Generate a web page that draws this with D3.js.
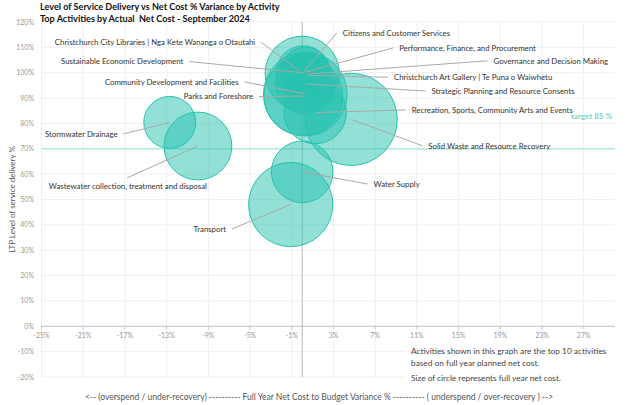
<!DOCTYPE html>
<html><head><meta charset="utf-8">
<script src="https://cdn.jsdelivr.net/npm/d3@7"></script>
<style>body{margin:0;background:#fff} svg{display:block;font-family:Lato,'Open Sans',sans-serif} text{white-space:pre}</style>
</head><body><svg id="c" width="642" height="405"></svg>
<script>
// ---- data ----
const activities = [
  "Christchurch City Libraries | Nga Kete Wananga o Otautahi",
  "Citizens and Customer Services",
  "Sustainable Economic Development",
  "Performance, Finance, and Procurement",
  "Governance and Decision Making",
  "Christchurch Art Gallery | Te Puna o Waiwhetu",
  "Strategic Planning and Resource Consents",
  "Community Development and Facilities",
  "Parks and Foreshore",
  "Recreation, Sports, Community Arts and Events",
  "Solid Waste and Resource Recovery",
  "Stormwater Drainage",
  "Wastewater collection, treatment and disposal",
  "Water Supply",
  "Transport"
];
const variancePct     = [0.0, 0.1, 0.0, 0.3, 0.6, 0.4, 0.3, 0.3, 0.1, 1.25, 4.7, -12.7, -10.0, 0.0, -1.1];
const serviceLevelPct = [99.8, 100.0, 100.0, 100.2, 99.5, 99.0, 95.6, 91.6, 90.8, 84.3, 81.6, 80.4, 71.1, 60.9, 48.0];
const netCost         = [55, 29, 13, 25, 19, 16, 36, 70, 62, 39, 85, 27, 46, 38, 71];
const xTicks = [-25, -21, -17, -13, -9, -5, -1, 3, 7, 11, 15, 19, 23, 27];
const yTicks = [-20, -10, 0, 10, 20, 30, 40, 50, 60, 70, 80, 90, 100, 110, 120];
const targetLineLevel = 70;
const targetText = "target 85 %";
const titleLines = ["Level of Service Delivery vs Net Cost % Variance by Activity",
                    "Top Activities by Actual  Net Cost - September 2024"];
const yTitle = "LTP Level of service delivery %";
const xTitle = "<-- (overspend / under-recovery) ---------- Full Year Net Cost to Budget Variance % ---------- ( underspend / over-recovery ) -->";
const notes = ["Activities shown in this graph are the top 10 activities",
               "based on full year planned net cost.",
               "Size of circle represents full year net cost."];

// ---- label layout (in axis units): text anchor x, y, side [, leader start x, y] ----
const labelLayout = [
  [-4.5, 112.0, "end"],
  [3.9, 115.7, "start"],
  [-11.4, 104.4, "end"],
  [9.3, 109.8, "start"],
  [18.35, 104.7, "start"],
  [8.8, 98.2, "start"],
  [12.4, 92.8, "start"],
  [-6.1, 96.4, "end"],
  [-4.7, 90.6, "end"],
  [10.5, 85.3, "start"],
  [12.1, 71.2, "start"],
  [-17.7, 75.9, "end"],
  [-24.3, 55.1, "start", -16.8, 58.5],
  [6.85, 56.1, "start"],
  [-7.3, 38.4, "end"]
];

const svg = d3.select("#c");
const x = d3.scaleLinear().domain([-25, 30]).range([41.5, 615]);
const y = d3.scaleLinear().domain([-20, 120]).range([377, 22]);
const r = d3.scaleSqrt().domain([0, 100]).range([0, 50]);

// grid
svg.append("g").selectAll("line").data(yTicks).join("line")
  .attr("x1", x(-25)).attr("x2", x(30)).attr("y1", d => y(d)).attr("y2", d => y(d))
  .attr("stroke", "#efefef");
svg.append("g").selectAll("line").data(xTicks).join("line")
  .attr("x1", d => x(d)).attr("x2", d => x(d)).attr("y1", y(120)).attr("y2", y(-20))
  .attr("stroke", "#efefef");

// target line
svg.append("line").attr("x1", x(-25)).attr("x2", x(30))
  .attr("y1", y(targetLineLevel)).attr("y2", y(targetLineLevel))
  .attr("stroke", "#a6e5db").attr("stroke-width", 1.2);
svg.append("text").attr("x", x(30) - 3).attr("y", y(targetLineLevel) - 30)
  .attr("text-anchor", "end").attr("font-size", 8).attr("font-weight", "bold")
  .attr("fill", "#7fd3c6").text(targetText);

// axes lines
svg.append("line").attr("x1", x(-25)).attr("x2", x(30)).attr("y1", y(0)).attr("y2", y(0))
  .attr("stroke", "#c4c4c4");
svg.append("line").attr("x1", x(0)).attr("x2", x(0)).attr("y1", y(120)).attr("y2", y(-20))
  .attr("stroke", "#b5b5b5");
svg.append("g").selectAll("line").data(xTicks.concat([-25])).join("line")
  .attr("x1", d => x(d)).attr("x2", d => x(d)).attr("y1", y(0)).attr("y2", y(0) + 3)
  .attr("stroke", "#c4c4c4");

// tick labels
svg.append("g").selectAll("text").data(yTicks).join("text")
  .attr("x", 34).attr("y", d => y(d) + 2.5).attr("text-anchor", "end")
  .attr("font-size", 7).attr("fill", "#9a9a9a").text(d => d + "%");
svg.append("g").selectAll("text").data(xTicks).join("text")
  .attr("x", d => x(d)).attr("y", y(0) + 12).attr("text-anchor", "middle")
  .attr("font-size", 7).attr("fill", "#9a9a9a").text(d => d + "%");

// bubbles
const data = activities.map((a, i) => ({name: a, vx: variancePct[i], vy: serviceLevelPct[i], c: netCost[i], L: labelLayout[i]}));
svg.append("g").selectAll("circle").data(data).join("circle")
  .attr("cx", d => x(d.vx)).attr("cy", d => y(d.vy)).attr("r", d => r(d.c))
  .attr("fill", "#27c2b0").attr("fill-opacity", 0.5)
  .attr("stroke", "#27c2b0").attr("stroke-width", 1);

// labels + leaders
const lab = svg.append("g").attr("font-size", 7.8).attr("fill", "#333");
data.forEach(d => {
  const [lx, ly, side, sx, sy] = d.L;
  const tx = x(lx), ty = y(ly);
  lab.append("text").attr("x", tx).attr("y", ty + 2.8).attr("text-anchor", side).text(d.name);
  let px, py;
  if (sx !== undefined) { px = x(sx); py = y(sy); }
  else { px = side === "start" ? tx - 6 : tx + 6; py = ty; }
  svg.append("line").attr("x1", px).attr("y1", py).attr("x2", x(d.vx)).attr("y2", y(d.vy))
    .attr("stroke", "#a9a9a9").attr("stroke-width", 1);
});

// notes box
svg.append("rect").attr("x", 405).attr("y", 338).attr("width", 210).attr("height", 46).attr("fill", "#fff");
svg.append("g").attr("font-size", 8.3).attr("fill", "#444").selectAll("text")
  .data(notes).join("text").attr("x", 411)
  .attr("y", (d, i) => [354, 365.5, 381][i]).text(d => d);

// titles
svg.append("g").attr("font-size", 9.1).attr("font-weight", "bold").attr("fill", "#111")
  .selectAll("text").data(titleLines).join("text")
  .attr("x", 40).attr("y", (d, i) => 10 + i * 11.7).text(d => d);
svg.append("text").attr("transform", `translate(14.5,${y(50)}) rotate(-90)`)
  .attr("text-anchor", "middle").attr("font-size", 8).attr("fill", "#555").text(yTitle);
svg.append("text").attr("x", 319).attr("y", 399.5).attr("text-anchor", "middle")
  .attr("font-size", 8.5).attr("fill", "#555").text(xTitle);
</script></body></html>
